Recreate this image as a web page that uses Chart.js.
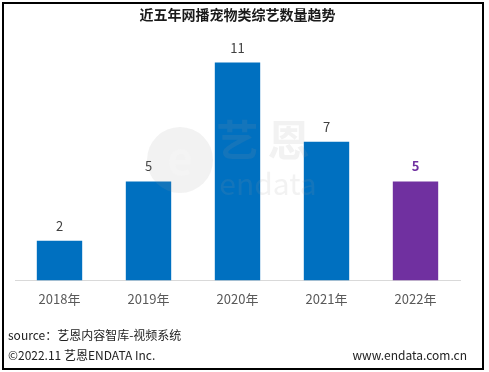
<!DOCTYPE html>
<html>
<head>
<meta charset="utf-8">
<script src="https://cdn.jsdelivr.net/npm/chart.js"></script>
<style>
  html, body { margin: 0; padding: 0; background: #fff; }
  #wrap { width: 489px; height: 372px; }
</style>
</head>
<body>
<div id="wrap"><canvas id="myChart" width="489" height="372"></canvas></div>
<script>
    // data
    const years = ['2018年', '2019年', '2020年', '2021年', '2022年'];
    const showCounts = [2, 5, 11, 7, 5];

    const blue = '#0070C0';
    const purple = '#7030A0';
    const cjk = '"Noto Sans CJK SC", "Noto Sans", sans-serif';

    // value labels above bars + frame + footer texts + watermark
    const extras = {
        id: 'extras',
        afterDatasetsDraw(chart) {
            const ctx = chart.ctx;
            const meta = chart.getDatasetMeta(0);
            ctx.save();
            ctx.textAlign = 'center';
            ctx.textBaseline = 'middle';
            meta.data.forEach((bar, i) => {
                const last = i === showCounts.length - 1;
                ctx.font = (last ? 'bold ' : '') + '13px ' + cjk;
                ctx.fillStyle = last ? purple : '#404040';
                ctx.fillText(showCounts[i], bar.x, bar.y - 15);
            });
            ctx.restore();
        },
        afterDraw(chart) {
            const ctx = chart.ctx;
            ctx.save();
            // watermark
            ctx.globalAlpha = 0.13;
            ctx.fillStyle = '#9a9a9a';
            ctx.beginPath();
            ctx.arc(180, 160, 33, 0, Math.PI * 2);
            ctx.fill();
            ctx.fillStyle = '#ffffff';
            ctx.font = 'bold 44px ' + cjk;
            ctx.textAlign = 'center';
            ctx.textBaseline = 'middle';
            ctx.fillText('e', 180, 158);
            ctx.fillStyle = '#9a9a9a';
            ctx.font = 'bold 42px ' + cjk;
            ctx.fillText('艺 恩', 263, 140);
            ctx.font = '30px ' + cjk;
            ctx.fillText('endata', 268, 184);
            ctx.restore();

            ctx.save();
            ctx.strokeStyle = '#000';
            ctx.lineWidth = 2;
            ctx.strokeRect(3, 3, 480, 366);
            ctx.fillStyle = '#222';
            ctx.font = '12px ' + cjk;
            ctx.textBaseline = 'middle';
            ctx.textAlign = 'left';
            ctx.fillText('source：艺恩内容智库-视频系统', 8, 335);
            ctx.fillText('©2022.11 艺恩ENDATA Inc.', 8, 355);
            ctx.textAlign = 'right';
            ctx.fillText('www.endata.com.cn', 467, 355);
            ctx.restore();
        }
    };

    const ctx = document.getElementById('myChart');
    const myChart = new Chart(ctx, {
        type: 'bar',
        data: {
            labels: years,
            datasets: [{
                data: showCounts,
                backgroundColor: showCounts.map((v, i) => i === showCounts.length - 1 ? purple : blue),
                categoryPercentage: 1,
                barPercentage: 0.51
            }]
        },
        options: {
            responsive: false,
            animation: false,
            layout: {
                padding: { left: 15, right: 29, top: 5, bottom: 62 }
            },
            plugins: {
                legend: { display: false },
                tooltip: { enabled: false },
                title: {
                    display: true,
                    text: '近五年网播宠物类综艺数量趋势',
                    color: '#1a1a1a',
                    font: { family: cjk, size: 14, weight: 'bold' },
                    padding: { top: 1, bottom: 20 }
                }
            },
            scales: {
                x: {
                    grid: { display: false },
                    border: { display: true, color: '#d9d9d9', width: 1 },
                    ticks: {
                        color: '#595959',
                        padding: 3,
                        font: { family: cjk, size: 13 }
                    }
                },
                y: {
                    display: false,
                    min: 0,
                    max: 12
                }
            }
        },
        plugins: [extras]
    });
</script>
</body>
</html>
